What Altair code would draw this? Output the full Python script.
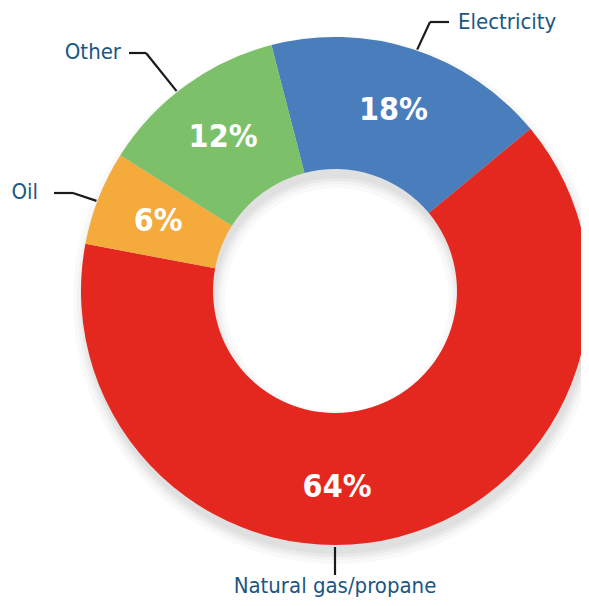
import math
import altair as alt
import pandas as pd

# ---- data ----
categories = ["Electricity", "Natural gas/propane", "Oil", "Other"]
shares = [18, 64, 6, 12]
pct_labels = ["18%", "64%", "6%", "12%"]
colors = ["#4a7dbb", "#e5281f", "#f5aa3c", "#7dc06a"]

# ---- layout ----
W, H = 573, 590
CX, CY = 327, 283
R_OUT, R_IN = 254, 122
START = -0.253  # radians, rotation of first slice
FONT = "DejaVu Sans Condensed, Liberation Sans Narrow, sans-serif"
NAVY = "#1a5784"

df = pd.DataFrame({"cat": categories, "share": shares, "label": pct_labels,
                   "order": list(range(len(categories)))})

theta_scale = alt.Scale(domain=[0, 100], range=[START, START + 2 * math.pi])
color_scale = alt.Scale(domain=categories, range=colors)

# soft shadow under the donut
shadows = []
for i, (dr, op) in enumerate([(10, 0.035), (6, 0.045), (3, 0.055), (0, 0.06)]):
    shadows.append(
        alt.Chart(pd.DataFrame({"k": [i]})).mark_arc(
            radius=R_OUT + dr, radius2=max(R_IN - dr, 0), color="#555555", opacity=op
        ).encode(
            x=alt.value(CX + 2), y=alt.value(CY + 9),
            theta=alt.value(0), theta2=alt.value(2 * math.pi),
        )
    )

arcs = alt.Chart(df).mark_arc(radius=R_OUT, radius2=R_IN).encode(
    theta=alt.Theta("share:Q", stack=True, scale=theta_scale),
    order=alt.Order("order:Q"),
    color=alt.Color("cat:N", scale=color_scale, legend=None),
    x=alt.value(CX), y=alt.value(CY),
)

stacked = alt.Chart(df).transform_window(
    s1="sum(share)", sort=[alt.SortField("order")], frame=[None, 0]
).transform_calculate(
    mid="datum.s1 - datum.share / 2"
)

pct_common = dict(font=FONT, fontSize=32, fontWeight="bold", color="white",
                  align="center", baseline="middle")

pct = stacked.transform_filter(alt.datum.cat != "Natural gas/propane").mark_text(
    radius=190, **pct_common
).encode(
    theta=alt.Theta("mid:Q", scale=theta_scale, stack=None),
    text="label:N",
    x=alt.value(CX), y=alt.value(CY),
)

pct_big = stacked.transform_filter(alt.datum.cat == "Natural gas/propane").mark_text(
    radius=196, dx=-47, dy=6, **pct_common
).encode(
    theta=alt.Theta("mid:Q", scale=theta_scale, stack=None),
    text="label:N",
    x=alt.value(CX), y=alt.value(CY),
)

# ---- outer labels with leader lines ----
def pt(deg, r):
    a = math.radians(deg)
    return CX + r * math.sin(a), CY - r * math.cos(a)

segs = []
ex, ey = pt(18.8, R_OUT + 1)
segs += [(ex, ey, 422, 14), (422, 14, 441, 14)]
ox, oy = pt(321.6, R_OUT + 1)
segs += [(ox, oy, 138, 45), (138, 45, 121, 45)]
lx, ly = pt(290.7, R_OUT + 1)
segs += [(lx, ly, 65, 185), (65, 185, 46, 185)]
nx, ny = pt(180, R_OUT + 2)
segs += [(nx, ny, 327, 567)]
seg_df = pd.DataFrame(segs, columns=["x", "y", "x2", "y2"])

leaders = alt.Chart(seg_df).mark_rule(color="#1a1a1a", strokeWidth=2.2).encode(
    x=alt.X("x:Q", scale=None), y=alt.Y("y:Q", scale=None),
    x2="x2:Q", y2="y2:Q",
)

lab_df = pd.DataFrame({
    "text": ["Electricity", "Other", "Oil", "Natural gas/propane"],
    "x": [450, 113, 30, 327],
    "y": [14, 44, 184, 578],
    "align": ["left", "right", "right", "center"],
})

outer_labels = []
for _, r in lab_df.iterrows():
    outer_labels.append(
        alt.Chart(pd.DataFrame([r])).mark_text(
            font=FONT, fontSize=22, color=NAVY, align=r["align"], baseline="middle"
        ).encode(
            x=alt.X("x:Q", scale=None), y=alt.Y("y:Q", scale=None), text="text:N"
        )
    )

chart = alt.layer(*shadows, arcs, pct, pct_big, leaders, *outer_labels).properties(
    width=W, height=H, padding=0, autosize=alt.AutoSizeParams(type="none")
).configure_view(stroke=None)

chart.save("out.html", embed_options={"renderer": "svg", "actions": False})
